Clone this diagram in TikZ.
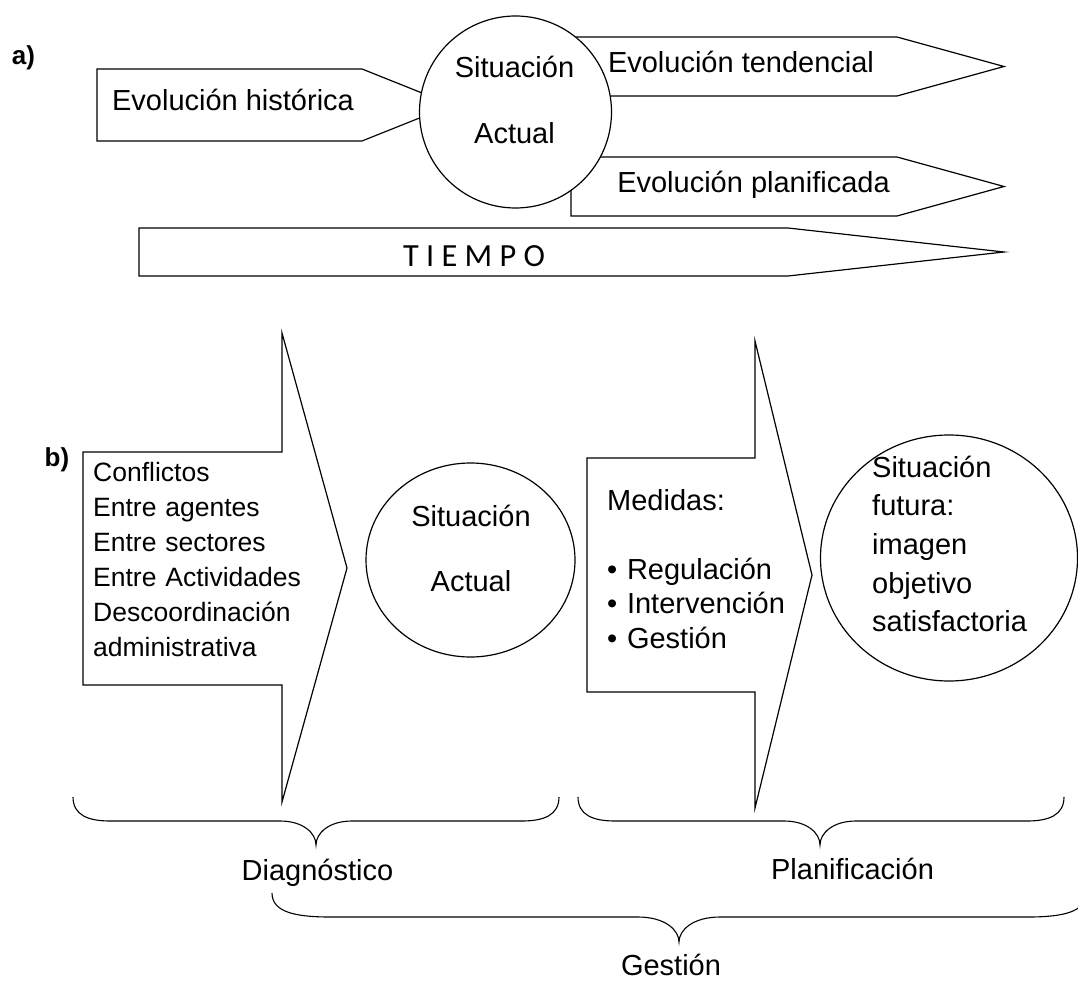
\documentclass[tikz,border=0pt]{standalone}
\usepackage{fontspec}
\setmainfont{Liberation Sans}
\newfontfamily\calib{Carlito}
\usetikzlibrary{shapes.geometric}
\begin{document}
\begin{tikzpicture}[x=1pt,y=-1pt,
  shp/.style={draw=black, line width=1.2pt, fill=white, line join=miter},
  brc/.style={draw=black, line width=1.1pt},
  txt/.style={inner sep=0pt, font=\fontsize{29}{34}\selectfont},
  lbl/.style={inner sep=0pt, font=\fontsize{26}{30}\selectfont\bfseries}]
\useasboundingbox[fill=white] (0,0) rectangle (1078,981);

% ---------- a) ----------
\node[lbl] (la) at (23.5,58) {a)};
\draw[shp] (97,69) -- (362,69) -- (452,105) -- (362,141) -- (97,141) -- cycle;
\node[txt, anchor=base] (hist) at (233,110.7) {Evolución histórica};
\draw[shp] (560,37) -- (897,37) -- (1004,66.5) -- (897,96) -- (560,96) -- cycle;
\node[txt, anchor=base] (tend) at (741,72.7) {Evolución tendencial};
\draw[shp] (571,157) -- (897,157) -- (1004,186.5) -- (897,216) -- (571,216) -- cycle;
\node[txt, anchor=base] (plan) at (753.5,192.7) {Evolución planificada};
\node[shp, circle, minimum size=192, inner sep=0pt] (sa) at (515.5,112) {};
\node[txt, anchor=base] (sa1) at (514.5,77.3) {Situación};
\node[txt, anchor=base] (sa2) at (514.5,143.3) {Actual};
\draw[shp] (139,228) -- (788,228) -- (1004,252) -- (788,276) -- (139,276) -- cycle;
\node[inner sep=0pt, anchor=base, font=\calib\fontsize{32.3}{36}\selectfont] (tiempo) at (474,266.7) {T I E M P O};

% ---------- b) ----------
\node[lbl] (lb) at (57,460) {b)};
\draw[shp] (83,452) -- (282,452) -- (282,333) -- (347,568) -- (282,802) -- (282,685) -- (83,685) -- cycle;
\node[inner sep=0pt, anchor=base west, text width=260, align=left,
      font=\fontsize{26.5}{35}\selectfont] (conf) at (93,481)
  {Conflictos\\Entre agentes\\Entre sectores\\Entre Actividades\\Descoordinación\\administrativa};
\node[shp, ellipse, minimum width=209, minimum height=194, inner sep=0pt] (sb) at (470.5,560) {};
\node[txt, anchor=base] (sb1) at (471,526) {Situación};
\node[txt, anchor=base] (sb2) at (471,591.7) {Actual};

\draw[shp] (587,458) -- (755,458) -- (755,341) -- (812,575) -- (755,808) -- (755,692) -- (587,692) -- cycle;
\node[inner sep=0pt, anchor=base west, text width=200, align=left,
      font=\fontsize{29}{34.5}\selectfont] (med) at (607,510)
  {Medidas:\\ \mbox{}\\• Regulación\\• Intervención\\• Gestión};
\node[shp, ellipse, minimum width=257, minimum height=246, inner sep=0pt] (sf) at (949,558) {};
\node[inner sep=0pt, anchor=base west, text width=200, align=left,
      font=\fontsize{29}{38.6}\selectfont] (fut) at (872,477.3)
  {Situación\\futura:\\imagen\\objetivo\\satisfactoria};

% ---------- braces ----------
\draw[brc] (73,797) .. controls (73,815) and (88,821) .. (110,821) -- (280,821)
  .. controls (303,821) and (316,833) .. (316,845)
  .. controls (316,833) and (329,821) .. (352,821) -- (522,821)
  .. controls (544,821) and (559,815) .. (559,797);
\node[txt, anchor=base] (diag) at (317.5,880.7) {Diagnóstico};

\draw[brc] (578,797) .. controls (578,815) and (593,821) .. (615,821) -- (784,821)
  .. controls (807,821) and (820,833) .. (820,845)
  .. controls (820,833) and (833,821) .. (856,821) -- (1027,821)
  .. controls (1049,821) and (1064,815) .. (1064,797);
\node[txt, anchor=base] (planif) at (852.5,879.3) {Planificación};

\draw[brc] (272,893) .. controls (272,912) and (295,917) .. (330,917) -- (638,917)
  .. controls (665,917) and (679,930) .. (679,942)
  .. controls (679,930) and (693,917) .. (720,917) -- (1028,917)
  .. controls (1063,917) and (1086,912) .. (1086,893);
\node[txt, anchor=base] (gest) at (671,975) {Gestión};
\end{tikzpicture}
\end{document}
